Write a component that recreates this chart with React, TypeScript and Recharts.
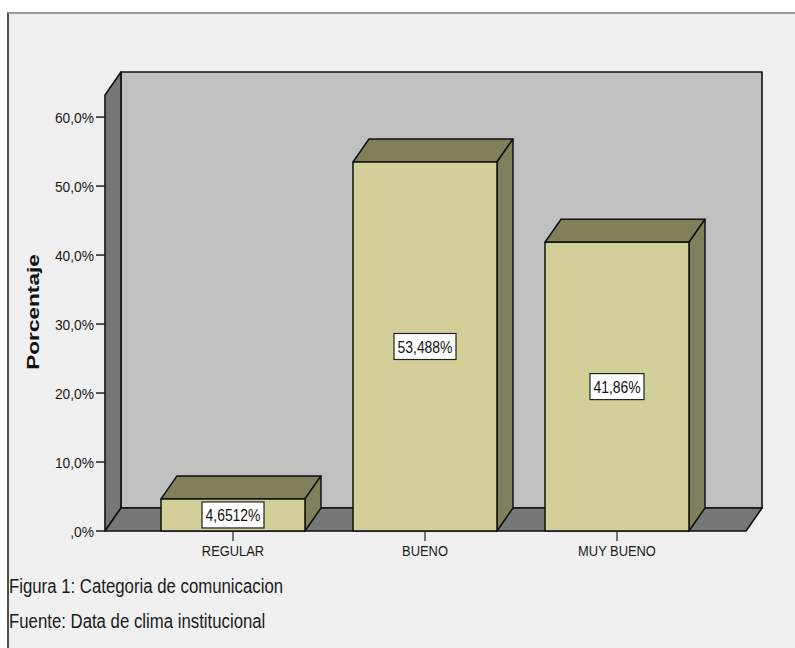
import React from "react";
import {
  BarChart,
  Bar,
  XAxis,
  YAxis,
  ReferenceArea,
  LabelList,
} from "recharts";

// categories and values (percent)
const categories = ["REGULAR", "BUENO", "MUY BUENO"];
const percentages = [4.6512, 53.488, 41.86];
const yTicks = [0, 10, 20, 30, 40, 50, 60];

const chartData = categories.map((name, i) => ({ name, value: percentages[i] }));

// 3D depth of the boxes / walls
const DX = 16;
const DY = 23;
const PAD_L = 32;
const PAD_R = 33;

const ARIAL = "'Liberation Sans', Arial, sans-serif";

const fmtValue = (v: number) => String(v).replace(".", ",") + "%";
const fmtTick = (v: number) => (v === 0 ? ",0%" : v.toFixed(1).replace(".", ",") + "%");

// walls of the 3D box: back wall, left wall and floor
const Walls = (props: any) => {
  const { x, y, width, height } = props;
  const x0 = x - PAD_L;
  const x1 = x + width + PAD_R;
  const y0 = y;
  const y1 = y + height;
  return (
    <g stroke="#111" strokeWidth={1.6} strokeLinejoin="round">
      <rect x={x0 + DX} y={y0 - DY} width={x1 - x0} height={y1 - y0} fill="#c0c0c0" />
      <polygon
        points={`${x0},${y0} ${x0 + DX},${y0 - DY} ${x0 + DX},${y1 - DY} ${x0},${y1}`}
        fill="#777777"
      />
      <polygon
        points={`${x0},${y1} ${x0 + DX},${y1 - DY} ${x1 + DX},${y1 - DY} ${x1},${y1}`}
        fill="#777777"
      />
    </g>
  );
};

const Box3D = (props: any) => {
  const { x, y, width, height } = props;
  const r = x + width;
  const b = y + height;
  return (
    <g stroke="#111" strokeWidth={1.5} strokeLinejoin="round">
      <polygon
        points={`${x},${y} ${x + DX},${y - DY} ${r + DX},${y - DY} ${r},${y}`}
        fill="#827f5b"
      />
      <polygon
        points={`${r},${y} ${r + DX},${y - DY} ${r + DX},${b - DY} ${r},${b}`}
        fill="#827f5b"
      />
      <rect x={x} y={y} width={width} height={height} fill="#d3cf98" />
    </g>
  );
};

const ValueBox = (props: any) => {
  const { x, y, width, height, value } = props;
  const text = fmtValue(value);
  const cx = x + width / 2;
  const cy = y + height / 2;
  const w = text.length * 8 + 6;
  const h = 26;
  return (
    <g>
      <rect
        x={cx - w / 2}
        y={cy - h / 2}
        width={w}
        height={h}
        fill="#fff"
        stroke="#222"
        strokeWidth={1.2}
      />
      <g transform={`translate(${cx},${cy + 6}) scale(0.87,1)`}>
        <text x={0} y={0} textAnchor="middle" fontFamily={ARIAL} fontSize={16} fill="#111">
          {text}
        </text>
      </g>
    </g>
  );
};

const XTick = (props: any) => {
  const { x, y, payload } = props;
  return (
    <g transform={`translate(${x},${y}) scale(0.86,1)`}>
      <text x={0} y={0} dy="0.71em" textAnchor="middle" fontFamily={ARIAL} fontSize={15} fill="#1a1a1a">
        {payload.value}
      </text>
    </g>
  );
};

const YTick = (props: any) => {
  const { x, y, payload } = props;
  return (
    <g transform={`translate(${x},${y}) scale(0.89,1)`}>
      <text x={0} y={0} dy="0.355em" textAnchor="end" fontFamily={ARIAL} fontSize={15.5} fill="#1a1a1a">
        {fmtTick(payload.value)}
      </text>
    </g>
  );
};

const captionStyle: React.CSSProperties = {
  position: "absolute",
  left: 9,
  fontFamily: ARIAL,
  fontSize: 19.5,
  lineHeight: "24px",
  color: "#1a1a1a",
  whiteSpace: "nowrap",
  transform: "scale(0.86,1)",
  transformOrigin: "0 0",
};

export default function App() {
  return (
    <div style={{ position: "absolute", left: 0, top: 0, width: 795, height: 648, background: "#fff", overflow: "hidden" }}>
      <div
        style={{
          position: "absolute",
          left: 7,
          top: 12,
          width: 800,
          height: 650,
          background: "#f0f0f0",
          borderTop: "2px solid #9a9a9a",
          borderLeft: "2px solid #505050",
        }}
      />
      <div style={{ position: "absolute", left: 0, top: 0 }}>
        <BarChart
          width={795}
          height={648}
          data={chartData}
          margin={{ top: 95, right: 49, bottom: 87, left: 45 }}
          barCategoryGap="12.5%"
        >
          <ReferenceArea y1={0} y2={63.2} shape={<Walls />} />
          <XAxis
            dataKey="name"
            height={30}
            padding={{ left: PAD_L, right: PAD_R }}
            axisLine={false}
            tickLine={{ stroke: "#222", strokeWidth: 1.2 }}
            tickSize={10}
            tickMargin={4}
            tick={<XTick />}
          />
          <YAxis
            width={60}
            domain={[0, 63.2]}
            ticks={yTicks}
            axisLine={false}
            tickLine={{ stroke: "#222", strokeWidth: 1.5 }}
            tickSize={9}
            tickMargin={2}
            tick={<YTick />}
          />
          <Bar dataKey="value" shape={<Box3D />} isAnimationActive={false}>
            <LabelList dataKey="value" content={<ValueBox />} />
          </Bar>
          <text
            transform="translate(39,312) rotate(-90) scale(1.33,1)"
            textAnchor="middle"
            fontFamily={ARIAL}
            fontWeight="bold"
            fontSize={17}
            fill="#111"
          >
            Porcentaje
          </text>
        </BarChart>
      </div>
      <div style={{ ...captionStyle, top: 574 }}>Figura 1: Categoria de comunicacion</div>
      <div style={{ ...captionStyle, top: 609 }}>Fuente: Data de clima institucional</div>
    </div>
  );
}
